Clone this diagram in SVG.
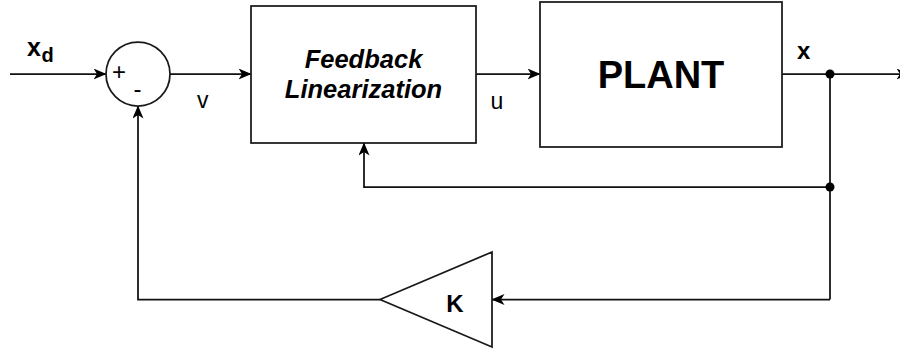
<svg xmlns="http://www.w3.org/2000/svg" width="900" height="351" viewBox="0 0 900 351">
  <style>
    .wire { fill: none; stroke: #111; stroke-width: 1.75; }
    .arrow { marker-end: url(#head); }
    .block { fill: #ffffff; stroke: #1a1a1a; stroke-width: 1.75; }
    .lbl { font-family: "Liberation Sans", Arial, sans-serif; fill: #000; }
    .b { font-weight: bold; }
  </style>
  <defs>
    <marker id="head" markerUnits="userSpaceOnUse" viewBox="0 0 13 11" refX="12.5" refY="5.5" markerWidth="13" markerHeight="11" orient="auto">
      <path d="M0,0 L13,5.5 L0,11 L3.5,5.5 Z" fill="#000"/>
    </marker>
  </defs>

  <rect width="900" height="351" fill="#ffffff"/>

  <!-- signal wiring -->
  <g id="connectors">
    <line class="wire arrow" x1="10" y1="74" x2="106" y2="74"/>
    <line class="wire arrow" x1="170" y1="74" x2="251" y2="74"/>
    <line class="wire arrow" x1="476" y1="74" x2="540" y2="74"/>
    <line class="wire arrow" x1="782" y1="74" x2="909" y2="74"/>
    <polyline class="wire" points="830,74 830,299.5"/>
    <polyline class="wire arrow" points="830,187 364,187 364,143"/>
    <line class="wire arrow" x1="830" y1="299.5" x2="492" y2="299.5"/>
    <polyline class="wire arrow" points="380,299.5 138,299.5 138,106"/>
    <circle cx="830" cy="74" r="4.5" fill="#000"/>
    <circle cx="830" cy="187" r="4.5" fill="#000"/>
  </g>

  <!-- reference input and signal names -->
  <g id="labels">
    <text class="lbl b" x="27" y="55.5" font-size="25">x</text>
    <text class="lbl b" x="41.5" y="61.5" font-size="20">d</text>
    <text class="lbl" x="197" y="108" font-size="23">v</text>
    <text class="lbl" x="490.5" y="109" font-size="23">u</text>
    <text class="lbl b" x="797" y="59" font-size="24">x</text>
  </g>

  <g id="summing-junction">
    <circle class="block" cx="138" cy="74" r="32"/>
    <text class="lbl" x="119" y="80" font-size="24" text-anchor="middle">+</text>
    <text class="lbl" x="137.5" y="96.5" font-size="24" text-anchor="middle">-</text>
  </g>

  <g id="feedback-linearization">
    <rect class="block" x="251" y="6" width="225" height="137"/>
    <text class="lbl b" x="363.5" y="68" font-size="25.5" font-style="italic" text-anchor="middle">Feedback</text>
    <text class="lbl b" x="363.5" y="98" font-size="25.5" font-style="italic" text-anchor="middle">Linearization</text>
  </g>

  <g id="plant">
    <rect class="block" x="540" y="2" width="242" height="145"/>
    <text class="lbl b" x="661" y="88" font-size="38" text-anchor="middle">PLANT</text>
  </g>

  <g id="gain">
    <polygon class="block" points="380,299.5 492,252 492,347"/>
    <text class="lbl b" x="455" y="311.5" font-size="24" text-anchor="middle">K</text>
  </g>
</svg>
